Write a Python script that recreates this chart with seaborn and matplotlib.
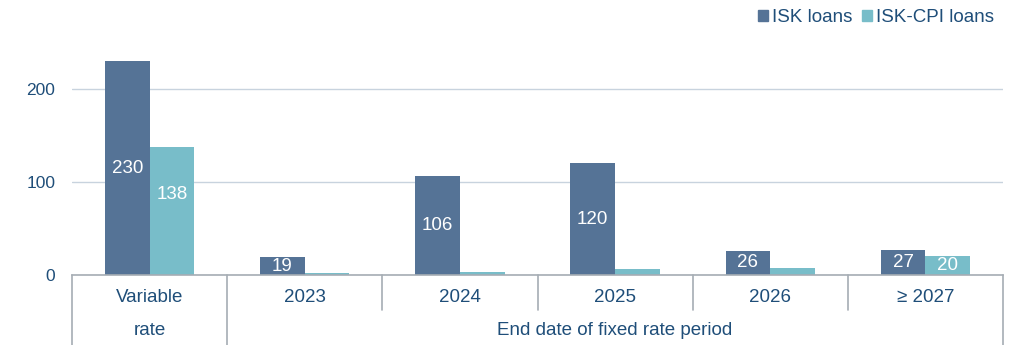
import matplotlib
matplotlib.use("Agg")
import matplotlib.pyplot as plt
import matplotlib.transforms as mtransforms
import seaborn as sns
import pandas as pd

# Outstanding loans by end of fixed-rate period (ISK bn)
categories = ["Variable", "2023", "2024", "2025", "2026", "\u2265 2027"]
isk_loans = [230, 19, 106, 120, 26, 27]
isk_cpi_loans = [138, 2, 3, 6, 8, 20]
series_names = ["ISK loans", "ISK-CPI loans"]
yticks = [0, 100, 200]
group_labels = ["rate", "End date of fixed rate period"]

df = pd.DataFrame({
    "category": categories * 2,
    "value": isk_loans + isk_cpi_loans,
    "series": [series_names[0]] * len(categories) + [series_names[1]] * len(categories),
})

sns.set_theme(style="white")
plt.rcParams["font.family"] = ["Liberation Sans", "DejaVu Sans"]

TEXT = "#1f4e79"
GRID = "#c8d3de"
SEP = "#a6adb4"
palette = {series_names[0]: "#557396", series_names[1]: "#78bdc9"}

fig = plt.figure(figsize=(10.15, 3.45), dpi=100)
ax = fig.add_axes([72 / 1015, 1 - 275 / 345, (1003 - 72) / 1015, 232.5 / 345])

sns.barplot(data=df, x="category", y="value", hue="series", order=categories,
            hue_order=series_names, palette=palette, width=0.575, gap=0,
            saturation=1, legend=False, ax=ax, linewidth=0)

ax.set_xlim(-0.5, len(categories) - 0.5)
ax.set_ylim(0, 250)
ax.set_yticks(yticks)
ax.yaxis.grid(True, color=GRID, linewidth=1)
ax.set_axisbelow(True)
for s in ["top", "right", "left"]:
    ax.spines[s].set_visible(False)
ax.spines["bottom"].set_color(SEP)
ax.spines["bottom"].set_linewidth(1.2)
ax.set_xlabel("")
ax.set_ylabel("")
ax.tick_params(axis="y", length=0, pad=12, labelsize=12.5, labelcolor=TEXT)
ax.tick_params(axis="x", length=0, pad=10, labelsize=13.5, labelcolor=TEXT)

# Value labels inside bars (small CPI values left unlabelled)
isk_bars, cpi_bars = ax.containers[0], ax.containers[1]
ax.bar_label(isk_bars, labels=[str(v) if v >= 15 else "" for v in isk_loans],
             label_type="center", color="white", fontsize=13.5)
ax.bar_label(cpi_bars, labels=[""] + [str(v) if v >= 15 else "" for v in isk_cpi_loans[1:]],
             label_type="center", color="white", fontsize=13.5)
# Variable-rate CPI label sits in the upper part of its bar
first = cpi_bars.patches[0]
ax.annotate(str(isk_cpi_loans[0]),
            xy=(first.get_x() + first.get_width() / 2, isk_cpi_loans[0]),
            xytext=(0, -34.5), textcoords="offset points",
            ha="center", va="center", color="white", fontsize=13.5)

# Category separators below the axis
trans = mtransforms.blended_transform_factory(ax.transData, ax.transAxes)
n = len(categories)
for k in range(n + 1):
    x = -0.5 + k
    bottom = -0.3 if k in (0, 1, n) else -0.15
    ax.plot([x, x], [0, bottom], transform=trans, color=SEP, linewidth=1.2,
            clip_on=False)

ax.text(0, -0.2366, group_labels[0], transform=trans, ha="center", va="center",
        fontsize=13.5, color=TEXT)
ax.text((1 + n - 1) / 2, -0.2366, group_labels[1], transform=trans,
        ha="center", va="center", fontsize=13.5, color=TEXT)

handles = [plt.Rectangle((0, 0), 1, 1, color=palette[s]) for s in series_names]
fig.legend(handles, series_names, loc="upper right", bbox_to_anchor=(1003 / 1015, 1.0),
           ncol=2, frameon=False, fontsize=13.5, handlelength=0.55, handleheight=0.55,
           handletextpad=0.2, columnspacing=0.5, labelcolor=TEXT, borderaxespad=0.1)

fig.savefig("out.png", dpi=100)
